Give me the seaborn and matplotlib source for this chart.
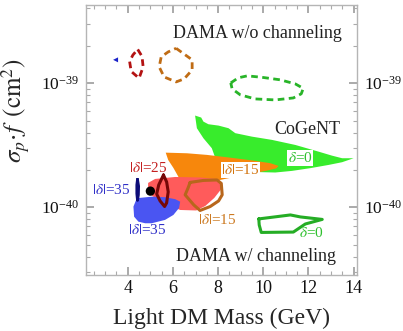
import numpy as np
import seaborn as sns
import matplotlib.pyplot as plt
from matplotlib.ticker import FixedLocator, MultipleLocator, LogLocator, NullFormatter

# Region outlines: mass in GeV, cross section as log10(cm^2)
cogent_fill_m = [6.98, 7.25, 7.35, 7.57, 8.02, 8.46, 8.76, 9.50, 10.38, 11.42, 12.45, 13.04, 13.49, 14.0,
                 13.49, 12.89, 12.08, 11.27, 10.53, 9.42, 8.31, 7.87, 7.72, 7.35, 7.06]
cogent_fill_e = [-39.261, -39.277, -39.31, -39.331, -39.342, -39.363, -39.403, -39.431, -39.457, -39.498,
                 -39.552, -39.584, -39.605, -39.605, -39.637, -39.659, -39.685, -39.707, -39.72, -39.715,
                 -39.66, -39.60, -39.524, -39.444, -39.363]

orange_fill_m = [5.68, 6.62, 7.50, 8.39, 9.57, 10.31, 10.68, 10.57, 10.16, 9.57, 8.83, 8.09, 7.20, 6.32, 6.02, 5.79]
orange_fill_e = [-39.56, -39.565, -39.578, -39.597, -39.624, -39.645, -39.667, -39.687, -39.705, -39.726,
                 -39.752, -39.78, -39.804, -39.78, -39.683, -39.619]

red_fill_m = [4.90, 5.21, 6.10, 7.20, 7.87, 8.14, 8.18, 7.83, 7.43, 7.03, 6.32, 5.65, 5.08, 4.90]
red_fill_e = [-39.804, -39.772, -39.756, -39.76, -39.772, -39.796, -39.844, -39.925, -39.99, -40.026,
              -40.022, -39.973, -39.909, -39.86]

blue_fill_m = [4.40, 5.06, 5.65, 6.10, 6.32, 6.27, 6.02, 5.65, 5.06, 4.77, 4.47, 4.28, 4.25]
blue_fill_e = [-39.927, -39.915, -39.919, -39.935, -39.955, -40.006, -40.062, -40.102, -40.129, -40.129,
               -40.116, -40.076, -39.995]

navy_line_m = [4.43, 4.48, 4.47, 4.43, 4.40, 4.40, 4.43]
navy_line_e = [-39.775, -39.83, -39.90, -39.945, -39.89, -39.82, -39.775]

maroon_line_m = [5.58, 5.72, 5.79, 5.72, 5.63, 5.43, 5.28, 5.37, 5.58]
maroon_line_e = [-39.74, -39.796, -39.876, -39.965, -39.994, -39.949, -39.893, -39.82, -39.74]

brown_line_m = [6.76, 7.34, 7.95, 8.14, 8.18, 8.02, 7.65, 7.20, 6.92, 6.54, 6.67, 6.76]
brown_line_e = [-39.80, -39.784, -39.78, -39.808, -39.90, -39.949, -39.994, -40.026, -39.981, -39.90,
                -39.844, -39.80]

green_line_m = [9.80, 11.20, 11.64, 12.61, 11.86, 11.33, 9.91, 9.82, 9.80]
green_line_e = [-40.094, -40.062, -40.078, -40.098, -40.135, -40.20, -40.203, -40.143, -40.094]

# DAMA without channeling (dashed)
blue_tri_m = [3.35, 3.57, 3.57]
blue_tri_e = [-38.812, -38.792, -38.832]

red_dash_m = [4.44, 4.63, 4.68, 4.50, 4.15, 4.08, 4.23, 4.44]
red_dash_e = [-38.728, -38.784, -38.869, -38.96, -38.905, -38.824, -38.772, -38.728]

brown_dash_m = [6.14, 6.85, 6.85, 6.50, 6.14, 5.61, 5.39, 5.48, 5.79, 6.14]
brown_dash_e = [-38.719, -38.812, -38.893, -38.965, -38.99, -38.95, -38.869, -38.788, -38.748, -38.719]

green_dash_m = [8.56, 8.89, 9.29, 9.95, 10.75, 11.42, 11.77, 11.68, 11.33, 10.53, 9.64, 8.98, 8.62, 8.56]
green_dash_e = [-38.998, -38.957, -38.941, -38.953, -38.973, -39.006, -39.042, -39.086, -39.119, -39.135,
                -39.127, -39.094, -39.046, -38.998]

best_fit_m = [5.0]
best_fit_e = [-39.87]

x_ticks = [4, 6, 8, 10, 12, 14]
y_ticks = [1e-40, 1e-39]

sns.set_style("ticks")
plt.rcParams["font.family"] = ["Liberation Serif", "DejaVu Serif"]
plt.rcParams["mathtext.fontset"] = "stix"

fig = plt.figure(figsize=(4.03, 3.31), dpi=100)
ax = fig.add_axes([0.2134, 0.1692, 0.6725, 0.8157])


def pw(e):
    return 10.0 ** np.asarray(e)


# filled regions (CoGeNT and DAMA with channeling)
ax.fill(cogent_fill_m, pw(cogent_fill_e), color="#38ec2c", lw=0, zorder=1)
ax.fill(orange_fill_m, pw(orange_fill_e), color="#f7870c", lw=0, zorder=2)
ax.fill(red_fill_m, pw(red_fill_e), color="#ff5b5b", lw=0, zorder=3)
ax.fill(blue_fill_m, pw(blue_fill_e), color="#4a55f2", lw=0, zorder=4)

# outlines
ax.plot(brown_line_m, pw(brown_line_e), color="#b8661c", lw=2.2, zorder=5)
ax.plot(maroon_line_m, pw(maroon_line_e), color="#760808", lw=2.2, zorder=6)
ax.plot(navy_line_m, pw(navy_line_e), color="#0c0c78", lw=2.0, zorder=6)
ax.plot(green_line_m, pw(green_line_e), color="#25ad25", lw=2.2, zorder=5)

dash = (2.4, 1.6)
ax.plot(red_dash_m, pw(red_dash_e), color="#b31212", lw=2.0, dashes=dash, zorder=5)
ax.plot(brown_dash_m, pw(brown_dash_e), color="#c06c14", lw=2.0, dashes=dash, zorder=5)
ax.plot(green_dash_m, pw(green_dash_e), color="#28b428", lw=2.0, dashes=dash, zorder=5)
ax.fill(blue_tri_m, pw(blue_tri_e), color="#1a22c8", lw=0, zorder=5)

sns.scatterplot(x=best_fit_m, y=pw(best_fit_e), color="black", s=45, edgecolor="none", zorder=7, ax=ax)

ax.set_yscale("log")
ax.set_xlim(2.15, 14.15)
ax.set_ylim(10 ** -40.546, 10 ** -38.37)

# labels
txt = dict(ha="center", va="center")
ax.text(9.72, 10 ** -38.598, "DAMA w/o channeling", fontsize=13, color="#222222", **txt)
ax.text(9.69, 10 ** -40.393, "DAMA w/ channeling", fontsize=13, color="#222222", **txt)
ax.text(11.95, 10 ** -39.377, "CoGeNT", fontsize=13, color="#222222", **txt)

box = dict(facecolor="white", edgecolor="none", pad=0.6)
ax.text(11.64, 10 ** -39.605, r"$\delta$=0", fontsize=11, color="#2ec02e", bbox=box, zorder=8, **txt)
ax.text(8.99, 10 ** -39.70, r"$|\delta|$=15", fontsize=11, color="#d2740e", bbox=box, zorder=8, **txt)
ax.text(12.15, 10 ** -40.21, r"$\delta$=0", fontsize=11, color="#2ec02e", **txt)
ax.text(7.98, 10 ** -40.10, r"$|\delta|$=15", fontsize=11, color="#cc7a22", **txt)
ax.text(4.90, 10 ** -39.68, r"$|\delta|$=25", fontsize=11, color="#c42020", **txt)
ax.text(3.28, 10 ** -39.86, r"$|\delta|$=35", fontsize=11, color="#3030c8", **txt)
ax.text(4.88, 10 ** -40.183, r"$|\delta|$=35", fontsize=11, color="#3030c8", **txt)

ax.set_xlabel("Light DM Mass (GeV)", fontsize=17, labelpad=8)
ax.set_ylabel(r"$\sigma_p\!\cdot\! f\ \,(\mathrm{cm}^2)$", fontsize=18)
ax.yaxis.set_label_coords(-0.198, 0.61)

# ticks
ax.xaxis.set_major_locator(FixedLocator(x_ticks))
ax.xaxis.set_minor_locator(MultipleLocator(0.5))
ax.yaxis.set_major_locator(FixedLocator(y_ticks))
ax.yaxis.set_minor_locator(LogLocator(base=10, subs=np.arange(2, 10)))
ax.yaxis.set_minor_formatter(NullFormatter())
ax.tick_params(which="both", direction="in", top=True, right=True, labelright=True,
               color="#aaaaaa", labelcolor="#111111")
ax.tick_params(axis="x", labelsize=13)
ax.tick_params(axis="y", labelsize=12.5)
ax.tick_params(which="major", length=6, width=1.4)
ax.tick_params(which="minor", length=3, width=0.8)
ax.tick_params(axis="y", which="major", pad=5)
for s in ax.spines.values():
    s.set_color("#b5b5b5")
    s.set_linewidth(1.0)

fig.savefig("out.png", dpi=100)
